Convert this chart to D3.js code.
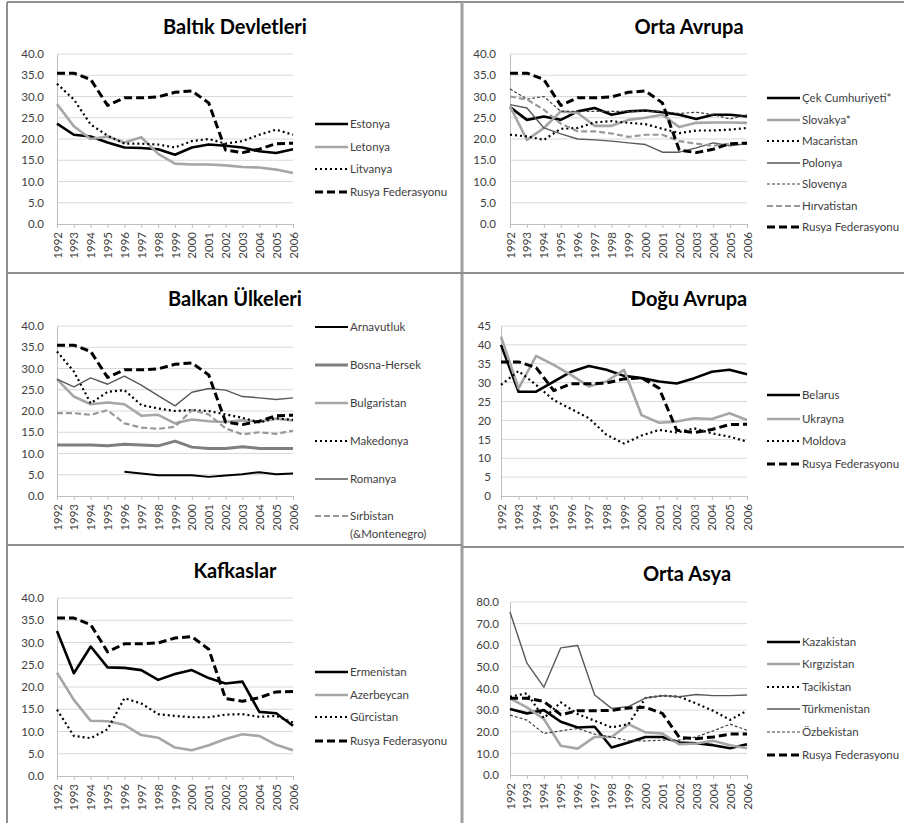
<!DOCTYPE html>
<html><head><meta charset="utf-8">
<script src="https://cdn.jsdelivr.net/npm/d3@7"></script>
<style>
html,body{margin:0;padding:0;background:#fff;}
svg{display:block;}
</style></head>
<body>
<svg id="chart" width="904" height="823"></svg>
<script>
// ---------- DATA ----------
const years = ["1992","1993","1994","1995","1996","1997","1998","1999","2000","2001","2002","2003","2004","2005","2006"];

const rusya       = [35.5,35.5,34.0,27.9,29.7,29.7,29.9,31.0,31.3,28.5,17.4,16.8,17.6,18.9,19.0];

// Baltık Devletleri
const estonya     = [23.6,21.0,20.6,19.2,18.0,17.9,17.6,16.3,18.0,18.7,18.4,18.0,17.1,16.7,17.6];
const letonya     = [28.2,23.0,20.0,20.6,19.2,20.4,16.5,14.2,14.0,14.0,13.8,13.4,13.3,12.8,12.0];
const litvanya    = [33.0,29.3,23.4,20.8,18.9,18.9,18.7,18.0,19.5,20.0,18.9,19.5,21.0,22.2,21.0];

// Orta Avrupa
const cek         = [27.5,24.5,25.3,24.5,26.5,27.3,25.7,26.5,26.7,26.3,25.7,24.7,25.7,25.7,25.3];
const slovakya    = [27.7,19.8,22.6,26.5,26.1,23.1,23.1,24.5,25.0,25.7,22.8,23.8,23.9,23.9,23.8];
const macaristan  = [21.0,20.6,19.8,22.4,22.6,23.9,24.2,23.8,23.5,22.4,21.4,22.0,22.0,22.2,22.6];
const polonya     = [28.1,27.3,22.6,21.2,20.0,19.8,19.5,19.1,18.7,16.9,16.9,17.9,19.1,18.4,18.9];
const slovenya    = [31.8,29.4,30.0,26.5,26.5,26.5,26.5,26.5,26.5,26.5,26.0,26.3,25.7,24.7,25.7];
const hirvatistan = [30.0,29.3,26.9,23.6,21.8,21.8,21.3,20.5,21.0,21.0,19.5,18.9,18.4,18.9,19.1];

// Balkan Ülkeleri
const arnavutluk  = [null,null,null,null,5.7,5.3,4.9,4.9,4.9,4.5,4.8,5.1,5.6,5.1,5.3];
const bosna       = [12.0,12.0,12.0,11.8,12.2,12.0,11.8,12.9,11.5,11.2,11.2,11.6,11.2,11.2,11.2];
const bulgaristan = [27.5,23.4,21.6,22.0,21.6,18.9,19.1,17.1,18.0,17.6,17.4,17.8,17.5,18.2,17.8];
const makedonya   = [34.0,29.3,21.8,24.5,24.9,21.4,20.6,20.0,20.2,20.0,19.2,18.4,17.3,18.3,17.9];
const romanya     = [27.5,25.7,27.8,26.3,28.2,26.1,23.6,21.2,24.4,25.3,24.9,23.4,23.1,22.7,23.1];
const sirbistan   = [19.5,19.5,19.1,20.2,17.1,16.1,15.8,16.3,20.2,19.2,15.9,14.5,15.0,14.6,15.4];

// Doğu Avrupa
const belarus     = [40.0,27.6,27.6,30.3,32.9,34.4,33.4,31.8,31.2,30.3,29.8,31.2,32.9,33.4,32.2];
const ukrayna     = [42.2,28.5,37.1,34.7,32.0,29.0,30.3,33.4,21.4,19.4,19.7,20.6,20.4,21.9,20.1];
const moldova     = [29.4,33.1,29.4,25.4,23.0,20.6,16.2,13.9,16.0,17.5,16.8,17.9,16.6,15.7,14.4];

// Kafkaslar
const ermenistan  = [32.6,23.1,29.1,24.4,24.3,23.8,21.6,22.9,23.8,22.0,20.8,21.2,14.4,14.1,11.3];
const azerbeycan  = [23.2,17.1,12.4,12.3,11.5,9.2,8.6,6.4,5.8,6.9,8.3,9.4,9.0,7.0,5.8];
const gurcistan   = [14.9,9.0,8.5,10.5,17.5,16.3,13.9,13.5,13.2,13.2,13.8,13.9,13.3,13.5,12.0];

// Orta Asya
const kazakistan  = [30.5,28.5,30.0,24.6,22.0,22.3,12.7,15.0,17.6,17.6,15.0,14.7,13.8,12.4,14.2];
const kirgizistan = [35.4,31.3,25.9,13.5,12.2,17.6,17.6,23.5,19.7,19.2,14.2,14.6,15.8,13.8,12.4];
const tacikistan  = [36.2,37.8,26.3,33.6,28.2,25.1,22.0,23.5,35.6,36.7,36.2,33.1,29.7,25.5,29.7];
const turkmenistan= [75.4,51.7,40.6,58.8,59.9,37.0,30.8,31.6,35.6,36.7,36.2,37.2,36.7,36.7,37.0];
const ozbekistan  = [27.7,25.4,19.2,20.4,21.5,18.9,17.6,15.8,15.8,16.1,16.1,17.6,20.4,23.5,20.7];

const yTicks40 = [0,5,10,15,20,25,30,35,40];
const yTicks45 = [0,5,10,15,20,25,30,35,40,45];
const yTicks80 = [0,10,20,30,40,50,60,70,80];

// ---------- STYLES ----------
const ST = {
  black:   {stroke:"#000",   width:2.6, dash:null},
  lgray:   {stroke:"#a6a6a6",width:2.6, dash:null},
  dot:     {stroke:"#000",   width:2.2, dash:"2,3"},
  rus:     {stroke:"#000",   width:3,   dash:"8,4"},
  thin:    {stroke:"#595959",width:1.4, dash:null},
  fine:    {stroke:"#404040",width:1.2, dash:"3,2"},
  gdash:   {stroke:"#999",   width:2.2, dash:"6,3"},
  bosna:   {stroke:"#7f7f7f",width:3,   dash:null},
  albania: {stroke:"#000",   width:2,   dash:null}
};

const panels = [
  {title:"Baltık Devletleri", tx:235, ty:34, x0:57, x1:293, yTop:54, yBot:224, ymax:40, ticks:yTicks40, fmt:".1f", labX:44,
   legX:315, legY:[124,147,169,192],
   series:[["Estonya",estonya,"black"],["Letonya",letonya,"lgray"],["Litvanya",litvanya,"dot"],["Rusya Federasyonu",rusya,"rus"]]},
  {title:"Orta Avrupa", tx:689, ty:34, x0:510, x1:747, yTop:54, yBot:224, ymax:40, ticks:yTicks40, fmt:".1f", labX:496,
   legX:767, legY:[98,120,141,163,184,206,227],
   series:[["Çek Cumhuriyeti*",cek,"black"],["Slovakya*",slovakya,"lgray"],["Macaristan",macaristan,"dot"],["Polonya",polonya,"thin"],["Slovenya",slovenya,"fine"],["Hırvatistan",hirvatistan,"gdash"],["Rusya Federasyonu",rusya,"rus"]]},
  {title:"Balkan Ülkeleri", tx:235, ty:306, x0:57, x1:293, yTop:326, yBot:496, ymax:40, ticks:yTicks40, fmt:".1f", labX:44,
   legX:315, legY:[327,365,403,441,479,516],
   series:[["Arnavutluk",arnavutluk,"albania"],["Bosna-Hersek",bosna,"bosna"],["Bulgaristan",bulgaristan,"lgray"],["Makedonya",makedonya,"dot"],["Romanya",romanya,"thin"],["Sırbistan|(&Montenegro)",sirbistan,"gdash"],["Rusya Federasyonu",rusya,"rus",true]]},
  {title:"Doğu Avrupa", tx:689, ty:306, x0:501, x1:747, yTop:326, yBot:496, ymax:45, ticks:yTicks45, fmt:"d", labX:491,
   legX:767, legY:[395,419,441,464],
   series:[["Belarus",belarus,"black"],["Ukrayna",ukrayna,"lgray"],["Moldova",moldova,"dot"],["Rusya Federasyonu",rusya,"rus"]]},
  {title:"Kafkaslar", tx:235, ty:578, x0:57, x1:293, yTop:598, yBot:776, ymax:40, ticks:yTicks40, fmt:".1f", labX:44,
   legX:315, legY:[672,695,717,741],
   series:[["Ermenistan",ermenistan,"black"],["Azerbeycan",azerbeycan,"lgray"],["Gürcistan",gurcistan,"dot"],["Rusya Federasyonu",rusya,"rus"]]},
  {title:"Orta Asya", tx:687, ty:581, x0:510, x1:747, yTop:602, yBot:775, ymax:80, ticks:yTicks80, fmt:".1f", labX:499,
   legX:767, legY:[642,664,687,709,732,755],
   series:[["Kazakistan",kazakistan,"black"],["Kırgızistan",kirgizistan,"lgray"],["Tacikistan",tacikistan,"dot"],["Türkmenistan",turkmenistan,"thin"],["Özbekistan",ozbekistan,"fine"],["Rusya Federasyonu",rusya,"rus"]]}
];

const svg = d3.select("#chart");
const FONT = "Lato, 'Open Sans', sans-serif";

// frame lines
const frame = svg.append("g").attr("stroke","#8f8f8f").attr("stroke-width",2);
frame.append("line").attr("x1",7).attr("x2",7).attr("y1",2).attr("y2",823);
frame.append("line").attr("x1",7).attr("x2",904).attr("y1",2).attr("y2",2);
frame.append("line").attr("x1",462).attr("x2",462).attr("y1",2).attr("y2",823).attr("stroke","#a0a0a0").attr("stroke-width",3);
frame.append("line").attr("x1",7).attr("x2",904).attr("y1",273).attr("y2",273);
frame.append("line").attr("x1",7).attr("x2",462).attr("y1",545).attr("y2",545);
frame.append("line").attr("x1",462).attr("x2",904).attr("y1",547).attr("y2",547);

panels.forEach(p => {
  const g = svg.append("g");
  const x = d3.scalePoint().domain(years).range([p.x0, p.x1]).padding(0);
  const y = d3.scaleLinear().domain([0, p.ymax]).range([p.yBot, p.yTop]);

  // title
  g.append("text").attr("x",p.tx).attr("y",p.ty).attr("text-anchor","middle")
   .attr("font-family",FONT).attr("font-weight","bold").attr("font-size",20).attr("fill","#000").text(p.title);

  // gridlines
  g.append("g").selectAll("line").data(p.ticks.filter(t=>t>0)).join("line")
   .attr("x1",p.x0).attr("x2",p.x1).attr("y1",d=>y(d)).attr("y2",d=>y(d))
   .attr("stroke","#d9d9d9").attr("stroke-width",1);

  // y axis
  const ya = g.append("g").attr("transform",`translate(${p.x0},0)`)
    .call(d3.axisLeft(y).tickValues(p.ticks).tickFormat(d3.format(p.fmt)).tickSize(0).tickPadding(p.x0-p.labX));
  ya.select(".domain").attr("stroke","#bfbfbf");
  ya.selectAll("text").attr("font-family",FONT).attr("font-size",11.5).attr("fill","#404040");

  // x axis
  const xa = g.append("g").attr("transform",`translate(0,${p.yBot})`)
    .call(d3.axisBottom(x).tickSize(4).tickSizeOuter(0));
  xa.select(".domain").attr("stroke","#bfbfbf");
  xa.selectAll(".tick line").attr("stroke","#bfbfbf");
  xa.selectAll("text").attr("font-family",FONT).attr("font-size",11.5).attr("fill","#404040")
    .attr("text-anchor","end").attr("transform","rotate(-90)")
    .attr("x",-8).attr("y",0).attr("dy","0.35em");

  // lines
  const line = d3.line().defined(d=>d[1]!=null).x(d=>x(d[0])).y(d=>y(d[1]));
  p.series.forEach(([name,vals,sty]) => {
    const s = ST[sty];
    g.append("path").datum(years.map((yr,i)=>[yr,vals[i]]))
      .attr("d",line).attr("fill","none").attr("stroke",s.stroke).attr("stroke-width",s.width)
      .attr("stroke-dasharray",s.dash).attr("stroke-linejoin","round");
  });

  // legend
  p.series.filter(s=>!s[3]).forEach(([name,vals,sty],i) => {
    const s = ST[sty];
    const ly = p.legY[i];
    g.append("line").attr("x1",p.legX).attr("x2",p.legX+33).attr("y1",ly).attr("y2",ly)
      .attr("stroke",s.stroke).attr("stroke-width",s.width).attr("stroke-dasharray",s.dash);
    const parts = name.split("|");
    parts.forEach((t,j)=>{
      g.append("text").attr("x",p.legX+35).attr("y",ly+j*18).attr("dy","0.35em")
        .attr("font-family",FONT).attr("font-size",11.5).attr("fill","#404040").text(t);
    });
  });
});
</script>
</body></html>
